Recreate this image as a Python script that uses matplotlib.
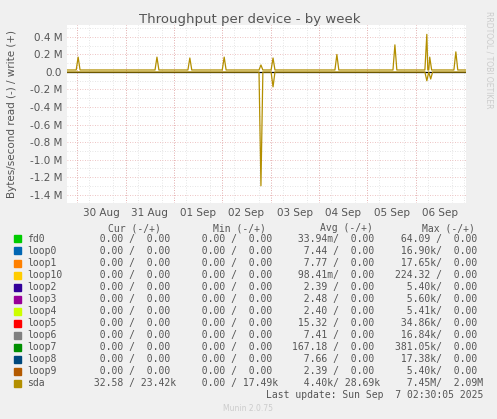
import matplotlib
matplotlib.use("Agg")
import numpy as np
import matplotlib.pyplot as plt

# time in days since 30 Aug 00:00, values in M bytes/s
t_start, t_end = -0.21, 8.04
day_labels = ["30 Aug", "31 Aug", "01 Sep", "02 Sep", "03 Sep", "04 Sep", "05 Sep", "06 Sep"]
write_base = 0.023
write_spike_t = [0.02, 1.65, 2.33, 3.04, 3.80, 4.05, 5.37, 6.57, 7.23, 7.29, 7.83]
write_spike_v = [0.17, 0.17, 0.16, 0.17, 0.08, 0.16, 0.20, 0.31, 0.43, 0.17, 0.23]
read_spike_t = [3.80, 4.05, 7.23, 7.31]
read_spike_v = [-1.30, -0.17, -0.10, -0.08]

devices = ["fd0", "loop0", "loop1", "loop10", "loop2", "loop3", "loop4", "loop5",
           "loop6", "loop7", "loop8", "loop9", "sda"]
colors = ["#00CC00", "#0066B3", "#FF8000", "#FFCC00", "#330099", "#990099", "#CCFF00",
          "#FF0000", "#808080", "#008F00", "#00487D", "#B35A00", "#B38F00"]
cur = [("0.00", "0.00")] * 12 + [("32.58", "23.42k")]
mins = [("0.00", "0.00")] * 12 + [("0.00", "17.49k")]
avgs = [("33.94m", "0.00"), ("7.44", "0.00"), ("7.77", "0.00"), ("98.41m", "0.00"),
        ("2.39", "0.00"), ("2.48", "0.00"), ("2.40", "0.00"), ("15.32", "0.00"),
        ("7.41", "0.00"), ("167.18", "0.00"), ("7.66", "0.00"), ("2.39", "0.00"),
        ("4.40k", "28.69k")]
maxs = [("64.09", "0.00"), ("16.90k", "0.00"), ("17.65k", "0.00"), ("224.32", "0.00"),
        ("5.40k", "0.00"), ("5.60k", "0.00"), ("5.41k", "0.00"), ("34.86k", "0.00"),
        ("16.84k", "0.00"), ("381.05k", "0.00"), ("17.38k", "0.00"), ("5.40k", "0.00"),
        ("7.45M", "2.09M")]


def spikes(ts, vs, base):
    pts = [(t_start, base), (t_end, base)]
    for t, v in zip(ts, vs):
        pts += [(t - 0.04, base), (t, v), (t + 0.04, base)]
    pts.sort()
    return np.array(pts).T


W, H = 497, 419
fig = plt.figure(figsize=(W / 100, H / 100), dpi=100, facecolor="#F0F0F0")
ax = fig.add_axes([67 / W, (H - 203) / H, 399 / W, 178 / H], facecolor="white")

ax.set_xlim(t_start, t_end)
ax.set_ylim(-1.497, 0.537)
yt = np.arange(-1.4, 0.41, 0.2)
ax.set_yticks(yt)
ax.set_yticklabels(["0.0" if abs(v) < 1e-9 else f"{v:.1f} M" for v in yt])
ax.set_yticks(np.arange(-1.4, 0.51, 0.1), minor=True)
ax.set_xticks(np.arange(0.5, 8, 1))
ax.set_xticklabels(day_labels)
ax.set_xticks(np.arange(0, 8.1, 0.25), minor=True)
ax.tick_params(length=0, labelsize=7.5, colors="#555555", which="both")
ax.grid(which="minor", color="#DDDDDD", linestyle=(0, (1, 2)), linewidth=0.6)
ax.grid(which="major", axis="y", color="#E8B0B0", linestyle=(0, (1, 2)), linewidth=0.6)
for d in range(8):
    ax.axvline(d, color="#E8A0A0", linestyle=(0, (1, 2)), linewidth=0.6)
for s in ax.spines.values():
    s.set_visible(False)
ax.axhline(0, color="black", linewidth=0.9)

wx, wy = spikes(write_spike_t, write_spike_v, write_base)
rx, ry = spikes(read_spike_t, read_spike_v, 0.0)
ax.plot(rx, ry, color=colors[-1], linewidth=0.9)
ax.plot(wx, wy, color=colors[-1], linewidth=0.9)

fig.text(250 / W, 1 - 19 / H, "Throughput per device - by week", ha="center", va="center",
         fontsize=9.5, color="#555555")
fig.text(12 / W, 1 - 114 / H, "Bytes/second read (-) / write (+)", rotation=90,
         ha="center", va="center", fontsize=7.5, color="#555555")
fig.text(489 / W, 1 - 60 / H, "RRDTOOL / TOBI OETIKER", rotation=270, ha="center",
         va="center", fontsize=5.5, color="#CCCCCC")

mono = dict(family="DejaVu Sans Mono", fontsize=7, color="#555555", va="center")
for x, h in [(134, "Cur (-/+)"), (239, "Min (-/+)"), (346, "Avg (-/+)"), (448, "Max (-/+)")]:
    fig.text(x / W, 1 - 228 / H, h, ha="center", **mono)


def cell(p):
    r, w = p
    r = r if r[-1].isalpha() else r + " "
    w = w if w[-1].isalpha() else w + " "
    return f"{r:>7}/{w:>7}"


for i, name in enumerate(devices):
    y = 1 - (239 + 12 * i) / H
    fig.patches.append(plt.Rectangle((14 / W, y - 3.5 / H), 7 / W, 7 / H,
                                     transform=fig.transFigure, color=colors[i]))
    fig.text(27 / W, y, name, ha="left", **mono)
    for x, p in [(176, cur[i]), (278, mins[i]), (380, avgs[i]), (483, maxs[i])]:
        fig.text(x / W, y, cell(p), ha="right", **mono)

fig.text(483 / W, 1 - 395 / H, "Last update: Sun Sep  7 02:30:05 2025", ha="right", **mono)
fig.text(248 / W, 1 - 408 / H, "Munin 2.0.75", ha="center", va="center", fontsize=5.5,
         color="#CCCCCC")

fig.savefig("out.png", dpi=100, facecolor=fig.get_facecolor())
